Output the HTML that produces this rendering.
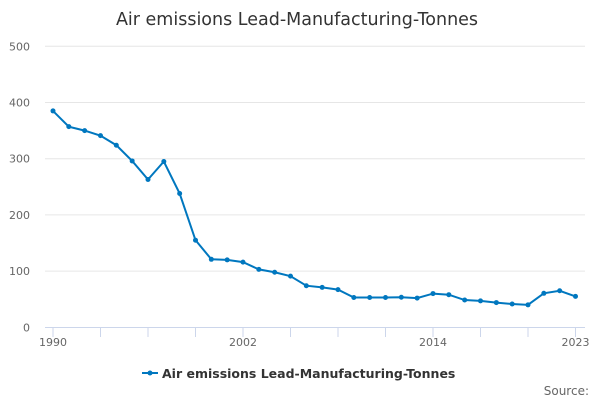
<!DOCTYPE html>
<html><head><meta charset="utf-8"><style>
body{margin:0;background:#fff;font-family:"Liberation Sans","DejaVu Sans",sans-serif}
svg text{font-family:"DejaVu Sans","Liberation Sans",sans-serif}
</style></head><body>
<svg id="c" width="600" height="400">
<text x="297" y="25" text-anchor="middle" font-size="17.5" fill="#333">Air emissions Lead-Manufacturing-Tonnes</text>
<g id="grid"></g><g id="xax"></g><g id="series"></g>
<g>
<line x1="142" y1="373" x2="158" y2="373" stroke="#0077bf" stroke-width="2"/>
<circle cx="150" cy="373" r="2.5" fill="#0077bf"/>
<text x="162" y="378" font-size="12.5" font-weight="bold" fill="#333">Air emissions Lead-Manufacturing-Tonnes</text>
</g>
<text x="589" y="395" text-anchor="end" font-size="12" fill="#666">Source:</text>
</svg>
<script>
const years=[1990,1991,1992,1993,1994,1995,1996,1997,1998,1999,2000,2001,2002,2003,2004,2005,2006,2007,2008,2009,2010,2011,2012,2013,2014,2015,2016,2017,2018,2019,2020,2021,2022,2023];
const values=[385,357,350,341,324,296,263,295,238,155,121,120,116,103,98,91,74,71,67,53,53,53,53.5,52,60,58,48.5,47,44,41.5,40,60.5,65,55];
const yTicks=[0,100,200,300,400,500];
const xLabels=[1990,2002,2014,2023];
const NS="http://www.w3.org/2000/svg";
const x=v=>53+(v-1990)*(575.5-53)/33;
const y=v=>327.3-v*0.562;
function mk(t,a,p){const e=document.createElementNS(NS,t);for(const k in a)e.setAttribute(k,a[k]);p.appendChild(e);return e;}
const g=document.getElementById('grid');
yTicks.forEach(t=>{
 if(t>0){const l=mk('line',{x1:45,x2:585,y1:y(t),y2:y(t),stroke:'#e6e6e6'},g);
 
 }
 const tx=mk('text',{x:30,y:y(t)+4,'text-anchor':'end','font-size':11,fill:'#666'},g);tx.textContent=t;
 
 
});
const xa=document.getElementById('xax');
const ax=mk('line',{x1:45,x2:585,y1:327.5,y2:327.5,stroke:'#ccd6eb'},xa);


for(let yr=1990;yr<=2023;yr+=3){const t=mk('line',{x1:x(yr),x2:x(yr),y1:327,y2:337,stroke:'#ccd6eb'},xa);
 
 }
mk('line',{x1:x(2023),x2:x(2023),y1:327,y2:337,stroke:'#ccd6eb'},xa);
xLabels.forEach(v=>{const t=mk('text',{x:x(v),y:346,'text-anchor':'middle','font-size':11,fill:'#666'},xa);t.textContent=v;
 
 });
const s=document.getElementById('series');
const p=mk('path',{d:years.map((yr,i)=>(i?'L':'M')+x(yr)+' '+y(values[i])).join(''),fill:'none',stroke:'#0077bf','stroke-width':2},s);


years.forEach((yr,i)=>{const c=mk('circle',{cx:x(yr),cy:y(values[i]),r:2.5,fill:'#0077bf'},s);
 
 });
</script>
</body></html>
